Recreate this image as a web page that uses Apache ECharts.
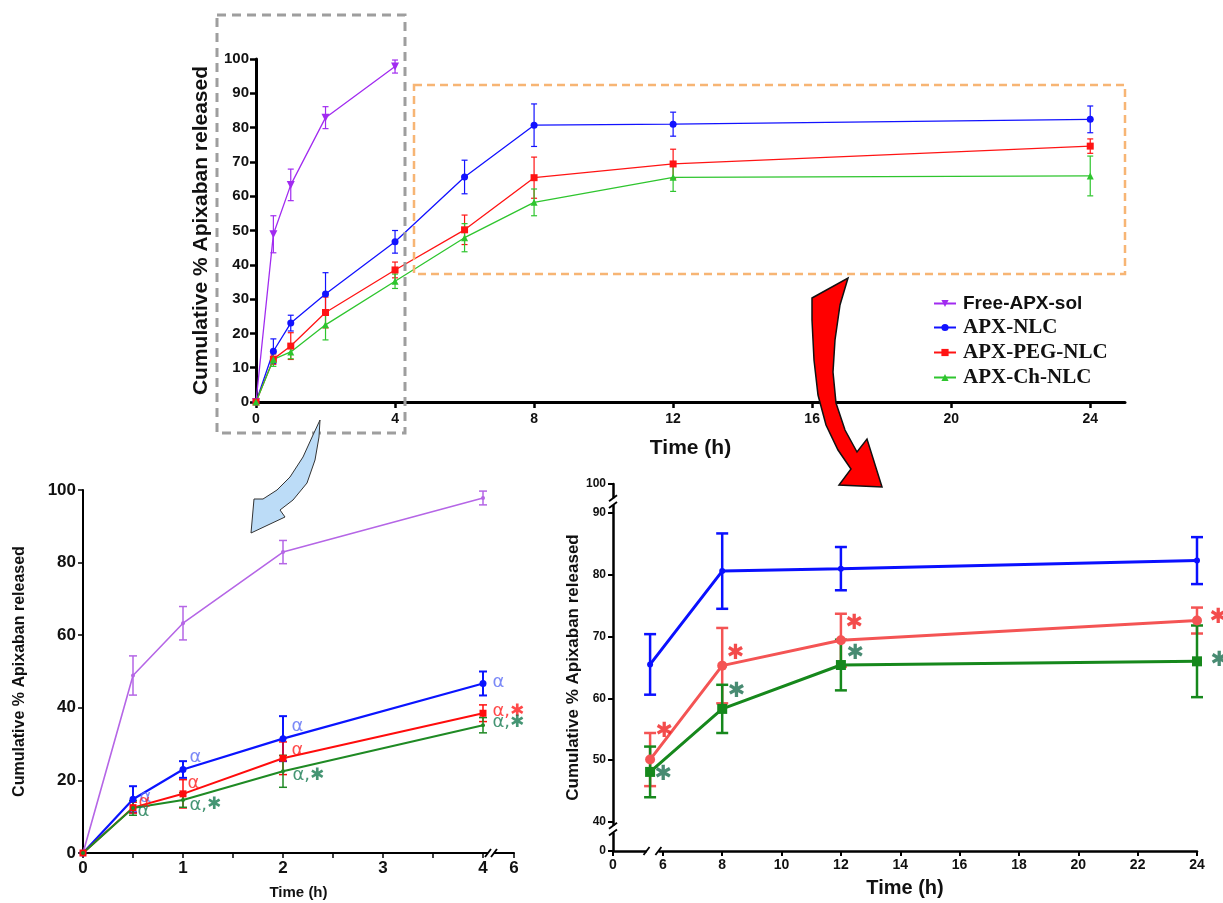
<!DOCTYPE html>
<html><head><meta charset="utf-8">
<script src="https://cdn.jsdelivr.net/npm/echarts@6/dist/echarts.min.js"></script>
<style>html,body{margin:0;padding:0;background:#fff}#c{width:1223px;height:903px}</style>
</head><body><div id="c"></div><script>
// ---------- data ----------
const seriesNames = ['Free-APX-sol', 'APX-NLC', 'APX-PEG-NLC', 'APX-Ch-NLC'];
const freeTimes = [0, 0.5, 1, 2, 4];
const freeVals  = [0, 48.9, 63.3, 82.9, 97.8];
const freeErr   = [0, 5.4, 4.6, 3.2, 1.9];
const allTimes  = [0, 0.5, 1, 2, 4, 6, 8, 12, 24];
const nlcVals   = [0, 14.8, 23.0, 31.5, 46.7, 65.6, 80.7, 81.0, 82.4];
const nlcErr    = [0, 3.6, 2.3, 6.2, 3.3, 4.9, 6.2, 3.5, 3.9];
const pegVals   = [0, 12.5, 16.3, 26.1, 38.5, 50.2, 65.4, 69.4, 74.6];
const pegErr    = [0, 1.5, 3.9, 4.5, 2.3, 4.3, 6.0, 4.3, 2.1];
const chVals    = [0, 12.4, 14.6, 22.5, 35.2, 47.9, 58.2, 65.5, 65.9];
const chErr     = [0, 2.0, 2.0, 4.4, 2.1, 4.1, 3.9, 4.1, 5.8];
// zoomed panel (6-24 h); the 6 h points sit left of the "6" tick in the picture
const zoomTimes = [5.57, 8, 12, 24];
const zNlcVals  = [65.5, 80.6, 81.0, 82.3];
const zNlcErr   = [4.9, 6.1, 3.5, 3.8];
const zPegVals  = [50.1, 65.3, 69.4, 72.6];
const zPegErr   = [4.3, 6.1, 4.3, 2.1];
const zChVals   = [48.1, 58.3, 65.4, 66.0];
const zChErr    = [4.1, 3.9, 4.1, 5.8];
// significance notes
const earlyNlcNotes = ['', 'α', 'α', 'α', 'α'];
const earlyPegNotes = ['', 'α', 'α', 'α', 'α,✱'];
const earlyChNotes  = ['', 'α', 'α,✱', 'α,✱', 'α,✱'];
const zoomPegNotes  = ['✱', '✱', '✱', '✱'];
const zoomChNotes   = ['✱', '✱', '✱', '✱'];
// tick labels
const topXTicks   = [0, 4, 8, 12, 16, 20, 24];
const earlyXTicks = [0, 1, 2, 3, 4];
const earlyBreakLabel = '6';
const zoomXTicks  = [6, 8, 10, 12, 14, 16, 18, 20, 22, 24];
const zoomYTicks  = [40, 50, 60, 70, 80, 90];
const zoomYLow = '0', zoomYHigh = '100', zoomXLow = '0';
const yTitle = 'Cumulative % Apixaban released';
const xTitle = 'Time (h)';

// ---------- layout / style (not data) ----------
const F = 'Liberation Sans';
const earlyEnd = 4.31;                 // axis position of the "6" label after the break
const zXMin = 4.32, zYMin = 35.3, zYMax = 94.7;
const earlyNlcOff = [null, [6, -2], [6, -12], [8, -12], [9, -1]];
const earlyPegOff = [null, [5, -5], [4, -11], [8, -8], [9, -2]];
const earlyChOff  = [null, [4, 3], [6, 5], [9, 4], [9, -3]];
const zoomPegOff  = [[5, -28], [4, -12], [4, -17], [12, -3]];
const zoomChOff   = [[4, 3], [5, -17], [5, -11], [13, -1]];

const C = {
  top: ['#a12bf0', '#1212ff', '#ff1414', '#2ec52e'],
  early: ['#b566e6', '#0a14ff', '#ff0c0c', '#1f8a24'],
  zoom: ['#0a10ff', '#f45454', '#16881c'],
  note: { nlc: '#5a6cf5', peg: '#ff1c1c', ch: '#177a50', zpeg: '#f01f1f', zch: '#1a6e4f' }
};

function pairs(xs, vs) { return xs.map((x, i) => [x, vs[i]]); }

function lineSeries(name, xs, vals, color, ax, symbol, size, lw, extra) {
  return Object.assign({
    type: 'line', name, xAxisIndex: ax, yAxisIndex: ax,
    data: pairs(xs, vals), symbol, symbolSize: size, showAllSymbol: true,
    lineStyle: { color, width: lw }, itemStyle: { color }, z: 3
  }, extra || {});
}

function errorBars(id, xs, vals, errs, color, ax, cap, lw) {
  const data = [];
  xs.forEach((x, i) => { if (errs[i] > 0) data.push([x, vals[i] - errs[i], vals[i] + errs[i]]); });
  return {
    type: 'custom', name: id, xAxisIndex: ax, yAxisIndex: ax, silent: true, z: 2,
    encode: { x: 0, y: [1, 2] }, data,
    renderItem(params, api) {
      const lo = api.coord([api.value(0), api.value(1)]);
      const hi = api.coord([api.value(0), api.value(2)]);
      const st = { stroke: color, lineWidth: lw, fill: null };
      return { type: 'group', children: [
        { type: 'line', shape: { x1: lo[0], y1: lo[1], x2: hi[0], y2: hi[1] }, style: st },
        { type: 'line', shape: { x1: lo[0] - cap, y1: lo[1], x2: lo[0] + cap, y2: lo[1] }, style: st },
        { type: 'line', shape: { x1: hi[0] - cap, y1: hi[1], x2: hi[0] + cap, y2: hi[1] }, style: st }
      ] };
    }
  };
}

function notes(id, xs, vals, texts, offs, color, ax, size, starSize) {
  const data = [];
  xs.forEach((x, i) => { if (texts[i]) data.push({ value: [x, vals[i]], name: texts[i], label: { offset: offs[i] || [0, 0] } }); });
  return {
    type: 'scatter', name: id, xAxisIndex: ax, yAxisIndex: ax, symbolSize: 1, silent: true, z: 6,
    itemStyle: { color: 'rgba(0,0,0,0)' }, data,
    label: { show: true, position: 'right', distance: 0,
      formatter: p => p.name.replace('✱', '{s|✱}'), color,
      fontSize: size, fontFamily: 'DejaVu Sans', fontWeight: 'normal', align: 'left', verticalAlign: 'middle',
      rich: { s: { fontSize: starSize, fontWeight: 'bold', fontFamily: 'DejaVu Sans', color } } }
  };
}

const ax = (w) => ({ show: true, onZero: false, lineStyle: { color: '#000', width: w } });
const tk = (len, w) => ({ show: true, length: len, lineStyle: { color: '#000', width: w } });
const lbl = (size, margin) => ({ fontSize: size, fontWeight: 'bold', color: '#111', fontFamily: F, margin });
const nm = (size) => ({ fontSize: size, fontWeight: 'bold', color: '#111', fontFamily: F });

const early = (arr) => arr.slice(0, 5);
const eT = early(allTimes);

const chart = echarts.init(document.getElementById('c'), null, { renderer: 'canvas' });
const option = {
  animation: false,
  backgroundColor: '#fff',
  grid: [
    { left: 256, top: 59, width: 869, height: 343 },
    { left: 83, top: 490, width: 431, height: 363 },
    { left: 613, top: 484, width: 584, height: 367 }
  ],
  xAxis: [
    { gridIndex: 0, type: 'value', min: 0, max: 25, name: xTitle, nameLocation: 'middle', nameGap: 36,
      nameTextStyle: nm(21), axisLine: ax(3), axisTick: Object.assign(tk(6, 2.5), { customValues: topXTicks }),
      axisLabel: Object.assign(lbl(14, 10), { customValues: topXTicks }), splitLine: { show: false } },
    { gridIndex: 1, type: 'value', min: 0, max: earlyEnd, name: xTitle, nameLocation: 'middle', nameGap: 32,
      nameTextStyle: nm(15), axisLine: ax(2),
      axisTick: Object.assign(tk(5, 1.5), { customValues: [0, 0.5, 1, 1.5, 2, 2.5, 3, 3.5, 4, earlyEnd] }),
      axisLabel: Object.assign(lbl(17, 7), { customValues: earlyXTicks.concat([earlyEnd]),
        formatter: v => v > 4.2 ? earlyBreakLabel : String(v) }), splitLine: { show: false } },
    { gridIndex: 2, type: 'value', min: zXMin, max: 24, name: xTitle, nameLocation: 'middle', nameGap: 27,
      nameTextStyle: nm(20), axisLine: ax(2.5),
      axisTick: Object.assign(tk(5, 2), { customValues: [zXMin].concat(zoomXTicks) }),
      axisLabel: Object.assign(lbl(14, 7), { customValues: [zXMin].concat(zoomXTicks),
        formatter: v => v < 5 ? zoomXLow : String(v) }), splitLine: { show: false } }
  ],
  yAxis: [
    { gridIndex: 0, type: 'value', min: 0, max: 100, interval: 10, name: yTitle, nameLocation: 'middle', nameGap: 44,
      nameTextStyle: nm(21), axisLine: ax(3), axisTick: tk(6, 2.5), axisLabel: lbl(15, 7), splitLine: { show: false } },
    { gridIndex: 1, type: 'value', min: 0, max: 100, interval: 20, name: yTitle, nameLocation: 'middle', nameGap: 55,
      nameTextStyle: nm(16), axisLine: ax(2), axisTick: tk(5, 1.5), axisLabel: lbl(17, 7), splitLine: { show: false } },
    { gridIndex: 2, type: 'value', min: zYMin, max: zYMax, name: yTitle, nameLocation: 'middle', nameGap: 27,
      nameTextStyle: nm(17), axisLine: ax(2.5),
      axisTick: Object.assign(tk(5, 2), { customValues: [zYMin].concat(zoomYTicks, [zYMax]) }),
      axisLabel: Object.assign(lbl(12, 7), { customValues: [zYMin].concat(zoomYTicks, [zYMax]),
        formatter: v => v < 39 ? zoomYLow : (v > 91 ? zoomYHigh : String(v)) }), splitLine: { show: false } }
  ],
  legend: {
    data: seriesNames, orient: 'vertical', left: 928, top: 289, itemWidth: 22, itemHeight: 9, itemGap: 4,
    selectedMode: false,
    formatter: n => n === seriesNames[0] ? '{a|' + n + '}' : '{b|' + n + '}',
    textStyle: { rich: {
      a: { fontFamily: F, fontWeight: 'bold', fontSize: 19, color: '#111', padding: [0, 0, 0, 2] },
      b: { fontFamily: 'Liberation Serif', fontWeight: 'bold', fontSize: 21, color: '#111', padding: [0, 0, 0, 2] }
    } }
  },
  series: [
    // top panel 0-24 h
    errorBars('e0', freeTimes, freeVals, freeErr, C.top[0], 0, 3, 1.2),
    errorBars('e1', allTimes, nlcVals, nlcErr, C.top[1], 0, 3, 1.2),
    errorBars('e2', allTimes, pegVals, pegErr, C.top[2], 0, 3, 1.2),
    errorBars('e3', allTimes, chVals, chErr, C.top[3], 0, 3, 1.2),
    lineSeries(seriesNames[0], freeTimes, freeVals, C.top[0], 0, 'triangle', 8, 1.3, { symbolRotate: 180 }),
    lineSeries(seriesNames[1], allTimes, nlcVals, C.top[1], 0, 'circle', 7, 1.3),
    lineSeries(seriesNames[2], allTimes, pegVals, C.top[2], 0, 'rect', 7, 1.3),
    lineSeries(seriesNames[3], allTimes, chVals, C.top[3], 0, 'triangle', 7, 1.3),
    // bottom-left 0-4 h
    errorBars('be0', freeTimes, freeVals, freeErr, C.early[0], 1, 4, 1.5),
    errorBars('be1', eT, early(nlcVals), early(nlcErr), C.early[1], 1, 4, 2),
    errorBars('be2', eT, early(pegVals), early(pegErr), C.early[2], 1, 4, 1.5),
    errorBars('be3', eT, early(chVals), early(chErr), C.early[3], 1, 4, 1.5),
    lineSeries('Free-APX-sol 0-4 h', freeTimes, freeVals, C.early[0], 1, 'circle', 4, 1.6),
    lineSeries('APX-NLC 0-4 h', eT, early(nlcVals), C.early[1], 1, 'circle', 7, 2.2),
    lineSeries('APX-PEG-NLC 0-4 h', eT, early(pegVals), C.early[2], 1, 'rect', 7, 2),
    lineSeries('APX-Ch-NLC 0-4 h', eT, early(chVals), C.early[3], 1, 'circle', 4, 2),
    notes('n1', eT, early(nlcVals), earlyNlcNotes, earlyNlcOff, C.note.nlc, 1, 18, 17),
    notes('n2', eT, early(pegVals), earlyPegNotes, earlyPegOff, C.note.peg, 1, 18, 17),
    notes('n3', eT, early(chVals), earlyChNotes, earlyChOff, C.note.ch, 1, 18, 17),
    // bottom-right 6-24 h
    errorBars('ze1', zoomTimes, zNlcVals, zNlcErr, C.zoom[0], 2, 6, 2.5),
    errorBars('ze2', zoomTimes, zPegVals, zPegErr, C.zoom[1], 2, 6, 2.5),
    errorBars('ze3', zoomTimes, zChVals, zChErr, C.zoom[2], 2, 6, 2.5),
    lineSeries('APX-NLC 6-24 h', zoomTimes, zNlcVals, C.zoom[0], 2, 'circle', 6, 3),
    lineSeries('APX-PEG-NLC 6-24 h', zoomTimes, zPegVals, C.zoom[1], 2, 'circle', 10, 3),
    lineSeries('APX-Ch-NLC 6-24 h', zoomTimes, zChVals, C.zoom[2], 2, 'rect', 10, 3),
    notes('zn2', zoomTimes, zPegVals, zoomPegNotes, zoomPegOff, C.note.zpeg, 2, 20, 21),
    notes('zn3', zoomTimes, zChVals, zoomChNotes, zoomChOff, C.note.zch, 2, 20, 21)
  ],
  graphic: [
    { type: 'rect', id: 'greyBox', z: 50, shape: { x: 217, y: 15, width: 188, height: 418 },
      style: { fill: null, stroke: '#9e9e9e', lineWidth: 3, lineDash: [9, 6] } },
    { type: 'rect', id: 'orangeBox', z: 50, shape: { x: 414, y: 85, width: 711, height: 189 },
      style: { fill: null, stroke: '#f7b574', lineWidth: 2.5, lineDash: [8, 5] } },
    { type: 'polygon', id: 'blueArrow', z: 60, shape: { points: [
        [320, 420], [313, 435], [303, 457], [290, 477], [277, 490], [263, 499], [254, 499], [251, 533],
        [285, 517], [280, 510], [293, 500], [307, 483], [315, 460], [319, 437]] },
      style: { fill: '#bcdcf7', stroke: '#333', lineWidth: 1 } },
    { type: 'polygon', id: 'redArrow', z: 60, shape: { points: [
        [812, 298], [848, 278], [840, 305], [835, 340], [833, 372], [836, 403], [845, 430], [857, 452],
        [867, 439], [882, 487], [839, 485], [851, 469], [838, 450], [826, 425], [818, 395], [814, 360], [812, 320]] },
      style: { fill: '#ff0000', stroke: '#111', lineWidth: 1.5 } }
  ]
};
chart.setOption(option);

// axis break marks, placed through the axes' own scales
function breakMarks() {
  const g = [];
  const P = (gi, v) => chart.convertToPixel({ gridIndex: gi }, v);
  const xBreak = (gi, a, b, yv, id) => {
    const p1 = P(gi, [a, yv]), p2 = P(gi, [b, yv]);
    g.push({ type: 'rect', id: id + 'w', z: 70, shape: { x: p1[0], y: p1[1] - 3, width: p2[0] - p1[0], height: 6 }, style: { fill: '#fff' } });
    [p1, p2].forEach((p, k) => g.push({ type: 'line', id: id + k, z: 71,
      shape: { x1: p[0] - 3, y1: p[1] + 4, x2: p[0] + 3, y2: p[1] - 4 }, style: { stroke: '#000', lineWidth: 1.8 } }));
  };
  const yBreak = (gi, a, b, xv, id) => {
    const p1 = P(gi, [xv, a]), p2 = P(gi, [xv, b]);
    g.push({ type: 'rect', id: id + 'w', z: 70, shape: { x: p1[0] - 3, y: p1[1], width: 6, height: p2[1] - p1[1] }, style: { fill: '#fff' } });
    [p1, p2].forEach((p, k) => g.push({ type: 'line', id: id + k, z: 71,
      shape: { x1: p[0] - 4, y1: p[1] + 3, x2: p[0] + 4, y2: p[1] - 3 }, style: { stroke: '#000', lineWidth: 1.8 } }));
  };
  xBreak(1, 4.05, 4.11, 0, 'bx1');
  xBreak(2, 5.45, 5.85, zYMin, 'bx2');
  yBreak(2, 92.4, 91.3, zXMin, 'by1');
  yBreak(2, 39.4, 38.3, zXMin, 'by2');
  chart.setOption({ graphic: g });
}
breakMarks();
</script></body></html>
